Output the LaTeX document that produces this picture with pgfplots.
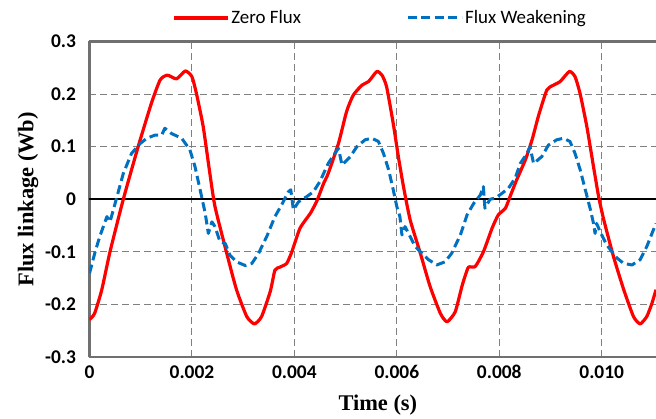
\documentclass[border=0pt]{standalone}
\usepackage{fontspec}
\setmainfont{Carlito}
\newfontfamily\labelfont{Liberation Serif}
\usepackage{pgfplots}
\pgfplotsset{compat=1.18}

\definecolor{spine}{RGB}{112,112,112}
\definecolor{gridgray}{RGB}{128,128,128}
\definecolor{fwblue}{RGB}{0,112,192}

\begin{document}
\begin{tikzpicture}
\begin{axis}[
  name=ax, at={(0,0)}, anchor=south west,
  scale only axis, width=566.5bp, height=315.5bp,
  xmin=0, xmax=0.01106, ymin=-0.3, ymax=0.3,
  axis x line=box, axis y line=left,
  axis line style={-, draw=spine, line width=2.2bp},
  xtick={0,0.002,0.004,0.006,0.008,0.010},
  xticklabels={0,0.002,0.004,0.006,0.008,0.010},
  ytick={-0.3,-0.2,-0.1,0,0.1,0.2,0.3},
  yticklabels={-0.3,-0.2,-0.1,0,0.1,0.2,0.3},
  scaled x ticks=false, scaled y ticks=false,
  major tick length=0pt,
  tick label style={font=\fontsize{19.5}{21}\selectfont\bfseries, text=black},
  xticklabel style={yshift=-5bp},
  yticklabel style={xshift=-10bp},
  grid=major,
  major grid style={draw=gridgray, line width=0.9bp, dash pattern=on 7bp off 4bp},
  extra y ticks={0}, extra y tick labels={},
  extra y tick style={grid=major, major grid style={draw=black, solid, line width=1.8bp}},
  xlabel={Time (s)}, ylabel={Flux linkage (Wb)},
  label style={font=\labelfont\fontsize{22.5}{24}\selectfont\bfseries},
  xlabel style={at={(axis description cs:0.509,-0.152)}, anchor=center},
  ylabel style={at={(axis description cs:-0.1086,0.5)}, anchor=center},
  legend columns=2,
  legend style={draw=none, fill=none, at={(0.5127,1.0745)}, anchor=center,
    font=\fontsize{19}{21}\selectfont,
    /tikz/every even column/.append style={column sep=103bp}},
  legend image code/.code={\draw[#1] (0bp,0bp) -- (54bp,0bp);},
  clip=true,
]
\addplot[red, line width=3.2bp, line join=round, smooth, tension=0.35] coordinates {
(0,-0.229) (0.0001,-0.217) (0.00024,-0.172) (0.0004,-0.10) (0.00066,0.0)
(0.00095,0.1) (0.00121,0.183) (0.00138,0.227) (0.00152,0.236) (0.0017,0.229)
(0.00187,0.244) (0.002,0.233) (0.00209,0.2) (0.00222,0.138) (0.00235,0.049)
(0.00245,-0.014) (0.00268,-0.103) (0.00287,-0.172) (0.00307,-0.223) (0.00322,-0.237)
(0.00336,-0.223) (0.00353,-0.175) (0.00362,-0.135) (0.00372,-0.129) (0.00385,-0.122)
(0.00395,-0.1) (0.00411,-0.055) (0.00431,-0.027) (0.00444,-0.003) (0.00457,0.03)
(0.00466,0.049) (0.00486,0.106) (0.00502,0.167) (0.00515,0.198) (0.00532,0.217)
(0.00545,0.224) (0.00561,0.243) (0.00571,0.236) (0.0058,0.214) (0.00593,0.144)
(0.00603,0.081) (0.00613,0.024) (0.00626,-0.039) (0.00646,-0.103) (0.00665,-0.166)
(0.00685,-0.217) (0.00698,-0.233) (0.00714,-0.214) (0.00727,-0.166) (0.00733,-0.147)
(0.0074,-0.129) (0.00753,-0.128) (0.00769,-0.1) (0.00786,-0.055) (0.00798,-0.03)
(0.00812,-0.017) (0.00821,0.005) (0.00834,0.037) (0.00851,0.075) (0.00864,0.113)
(0.00877,0.16) (0.00893,0.208) (0.00906,0.217) (0.00919,0.224) (0.00937,0.243)
(0.00948,0.233) (0.00958,0.2) (0.00971,0.138) (0.00984,0.062) (0.00994,0.005)
(0.01004,-0.039) (0.01023,-0.109) (0.01043,-0.172) (0.01062,-0.223) (0.01075,-0.237)
(0.01088,-0.223) (0.01098,-0.198) (0.01106,-0.172)
};
\addlegendentry{Zero Flux}
\addplot[fwblue, line width=3bp, line join=round, dash pattern=on 9bp off 4.5bp] coordinates {
(0,-0.141) (0.00011,-0.1) (0.0002,-0.071) (0.00034,-0.033) (0.0004,-0.043)
(0.0005,-0.008) (0.00066,0.049) (0.00082,0.087) (0.00099,0.106) (0.00112,0.116)
(0.00128,0.122) (0.00141,0.122) (0.00147,0.135) (0.0016,0.125) (0.0018,0.116)
(0.00196,0.094) (0.00206,0.062) (0.00216,0.018) (0.00226,-0.027) (0.00232,-0.065)
(0.00239,-0.043) (0.00245,-0.052) (0.00255,-0.081) (0.00265,-0.084) (0.00274,-0.106)
(0.00287,-0.119) (0.00304,-0.126) (0.00317,-0.122) (0.0033,-0.103) (0.00346,-0.071)
(0.00362,-0.033) (0.00375,-0.011) (0.00388,0.014) (0.00393,0.018) (0.00398,-0.02)
(0.00408,-0.005) (0.00424,0.005) (0.00437,0.014) (0.0045,0.034) (0.00466,0.068)
(0.00479,0.087) (0.00486,0.097) (0.00493,0.065) (0.00509,0.081) (0.00522,0.1)
(0.00538,0.113) (0.00551,0.116) (0.00564,0.11) (0.00574,0.087) (0.00584,0.056)
(0.00593,0.018) (0.006,-0.014) (0.00606,-0.033) (0.0061,-0.068) (0.00616,-0.052)
(0.00626,-0.071) (0.00636,-0.09) (0.00646,-0.1) (0.00662,-0.115) (0.00678,-0.125)
(0.00694,-0.119) (0.00707,-0.103) (0.00724,-0.068) (0.00737,-0.03) (0.0075,-0.008)
(0.00763,0.008) (0.00769,0.024) (0.00772,-0.017) (0.00782,0.0) (0.00792,0.002)
(0.00805,0.011) (0.00818,0.021) (0.00831,0.04) (0.00841,0.068) (0.00854,0.087)
(0.0086,0.1) (0.00867,0.068) (0.00883,0.081) (0.00896,0.103) (0.00912,0.113)
(0.00925,0.116) (0.00938,0.11) (0.00948,0.087) (0.00958,0.056) (0.00968,0.018)
(0.00978,-0.02) (0.00984,-0.046) (0.00987,-0.065) (0.0099,-0.046) (0.01,-0.068)
(0.0101,-0.087) (0.0102,-0.1) (0.0103,-0.112) (0.01043,-0.122) (0.01059,-0.125)
(0.01075,-0.115) (0.01088,-0.09) (0.01101,-0.058) (0.01106,-0.046)
};
\addlegendentry{Flux Weakening}
\end{axis}
\pgfresetboundingbox
\path (-89.5bp,-62bp) rectangle (566.5bp,357bp);
\end{tikzpicture}
\end{document}
